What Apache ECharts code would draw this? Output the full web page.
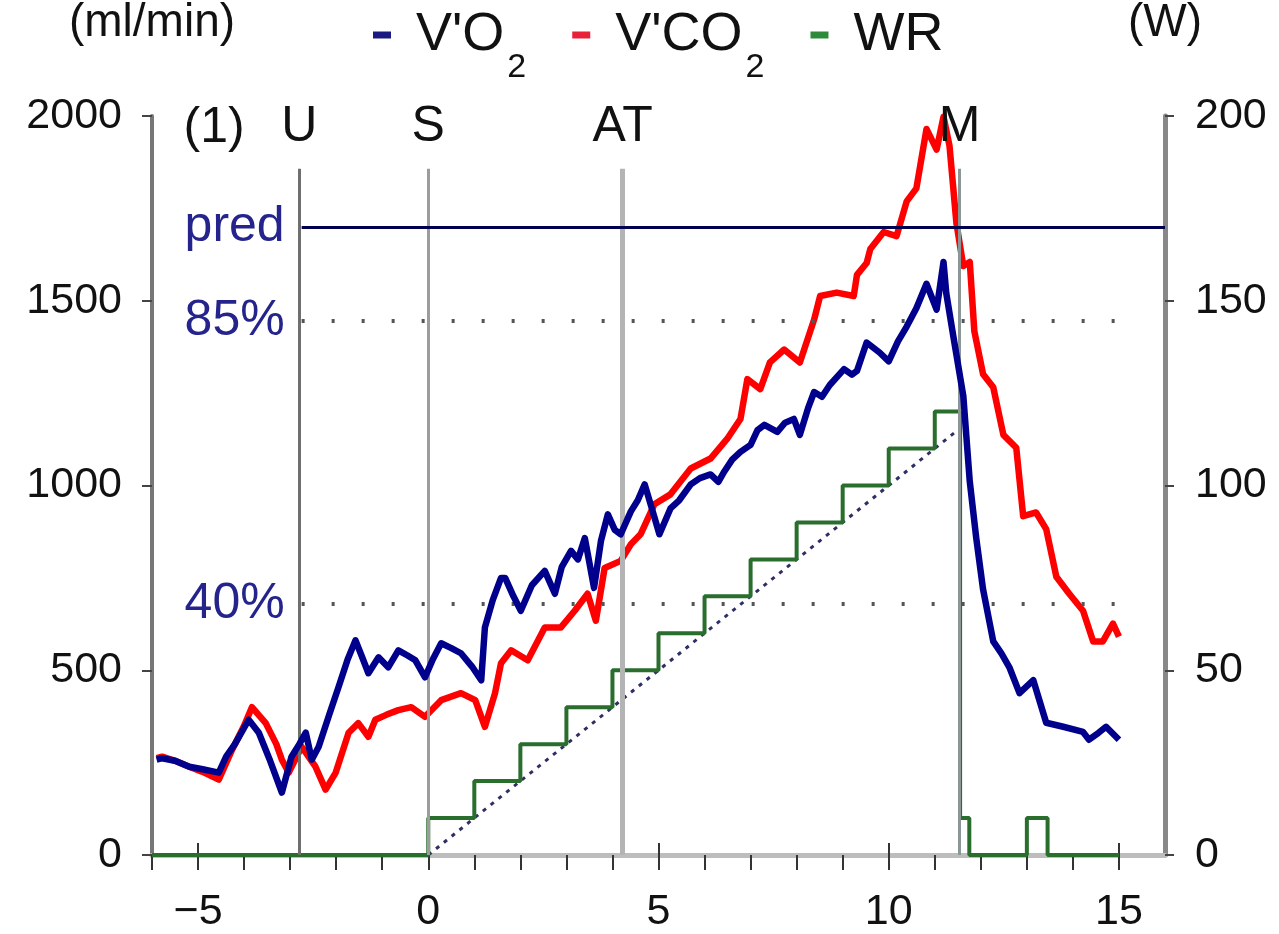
<!DOCTYPE html>
<html>
<head>
<meta charset="utf-8">
<script src="https://cdn.jsdelivr.net/npm/echarts@6/dist/echarts.min.js"></script>
<style>
  html, body { margin: 0; padding: 0; background: #ffffff; }
  #chart { width: 1279px; height: 934px; }
</style>
</head>
<body>
<div id="chart"></div>
<script>
// Oxygen uptake (ml/min) against time (min)
const vo2Time = [-5.9, -5.78, -5.5, -5.19, -4.9, -4.55, -4.39, -4.2, -3.9, -3.68, -3.45, -3.18, -2.97, -2.8, -2.66, -2.53, -2.38, -2.15, -1.95, -1.75, -1.58, -1.45, -1.3, -1.08, -0.87, -0.65, -0.45, -0.28, -0.07, 0.1, 0.28, 0.5, 0.71, 0.95, 1.15, 1.23, 1.4, 1.58, 1.67, 1.85, 2.01, 2.25, 2.53, 2.75, 2.9, 3.1, 3.25, 3.4, 3.6, 3.75, 3.9, 4.05, 4.18, 4.4, 4.55, 4.7, 4.85, 5.02, 5.26, 5.45, 5.7, 5.9, 6.13, 6.3, 6.43, 6.6, 6.78, 7.0, 7.15, 7.3, 7.58, 7.75, 7.94, 8.07, 8.25, 8.38, 8.55, 8.72, 9.03, 9.2, 9.31, 9.52, 9.8, 10.0, 10.2, 10.39, 10.6, 10.82, 11.04, 11.19, 11.25, 11.4, 11.62, 11.76, 11.9, 12.05, 12.27, 12.45, 12.62, 12.84, 13.14, 13.42, 13.79, 14.22, 14.35, 14.55, 14.72, 15.0];
const vo2Values = [258, 262, 255, 239, 232, 223, 266, 300, 366, 331, 260, 169, 266, 300, 331, 258, 293, 380, 454, 530, 581, 540, 492, 535, 508, 554, 540, 527, 481, 530, 573, 560, 546, 510, 473, 616, 690, 750, 750, 700, 661, 730, 769, 707, 780, 823, 800, 858, 723, 850, 922, 880, 868, 930, 960, 1003, 940, 868, 938, 960, 1003, 1020, 1030, 1010, 1038, 1070, 1091, 1110, 1150, 1164, 1145, 1170, 1180, 1137, 1210, 1253, 1240, 1272, 1315, 1300, 1310, 1387, 1360, 1336, 1390, 1430, 1480, 1546, 1476, 1605, 1520, 1406, 1242, 1011, 858, 718, 578, 545, 508, 438, 473, 358, 347, 333, 312, 330, 347, 312];

// Carbon dioxide output (ml/min) against time (min)
const vco2Time = [-5.9, -5.78, -5.5, -5.19, -4.9, -4.55, -4.26, -4.0, -3.83, -3.53, -3.3, -3.18, -3.03, -2.75, -2.45, -2.23, -2.01, -1.73, -1.52, -1.3, -1.15, -0.9, -0.65, -0.37, -0.07, 0.28, 0.71, 1.02, 1.23, 1.45, 1.58, 1.8, 2.16, 2.53, 2.88, 3.18, 3.46, 3.64, 3.83, 4.18, 4.4, 4.61, 4.91, 5.26, 5.7, 6.13, 6.49, 6.78, 6.93, 7.21, 7.42, 7.73, 8.07, 8.38, 8.51, 8.87, 9.24, 9.31, 9.52, 9.6, 9.89, 10.17, 10.39, 10.6, 10.82, 11.04, 11.19, 11.32, 11.47, 11.62, 11.76, 11.86, 12.05, 12.27, 12.49, 12.77, 12.92, 13.2, 13.42, 13.64, 13.92, 14.22, 14.44, 14.65, 14.87, 15.0];
const vco2Values = [262, 266, 255, 239, 225, 204, 285, 350, 400, 357, 300, 258, 223, 293, 239, 177, 223, 331, 357, 320, 366, 380, 392, 400, 374, 419, 438, 419, 347, 438, 519, 554, 527, 616, 616, 661, 707, 634, 777, 796, 841, 868, 949, 976, 1046, 1073, 1126, 1180, 1288, 1261, 1333, 1368, 1333, 1449, 1513, 1522, 1513, 1570, 1602, 1640, 1686, 1675, 1769, 1804, 1965, 1909, 1998, 1919, 1710, 1594, 1605, 1417, 1301, 1266, 1137, 1102, 917, 927, 882, 753, 707, 661, 578, 578, 626, 591];

// Work rate (W): time at which each level starts, and the level
const wrTime = [-6, 0, 1, 2, 3, 4, 5, 6, 7, 8, 9, 10, 11, 11.55, 11.75, 13, 13.45, 15];
const wrWatts = [0, 10, 20, 30, 40, 50, 60, 70, 80, 90, 100, 110, 120, 10, 0, 10, 0, 0];

// Linear ramp of 10 W/min
const rampTime = [0, 11.45];
const rampWatts = [0, 114.5];

// Event markers (min) and reference levels (ml/min)
const markerNames = ['U', 'S', 'AT', 'M'];
const markerTimes = [-2.8, 0, 4.22, 11.54];
const markerTop = 1857;
const phaseLabel = '(1)';
const phaseLabelPos = [-4.65, 1968];
const predValue = 1700;
const predLevels = [0.85, 0.40];
const levelStart = -2.75;
const levelEnd = 15.35;

// Axis ticks
const xTickValues = [-6, -5, -4, -3, -2, -1, 0, 1, 2, 3, 4, 5, 6, 7, 8, 9, 10, 11, 12, 13, 14, 15];
const xMajorTicks = [-5, 5, 10, 15];
const xLabelValues = [-5, 0, 5, 10, 15];

const FONT = '"Liberation Sans", Arial, Helvetica, sans-serif';
const pairs = (xs, ys) => xs.map((x, i) => [x, ys[i]]);

const markerStyles = {
  U:  { color: '#6f6f6f', width: 3 },
  S:  { color: '#9c9c9c', width: 3 },
  AT: { color: '#b4b4b4', width: 5 },
  M:  { color: '#8c9696', width: 3 }
};

const markerLines = markerNames.map((name, i) => [
  {
    coord: [markerTimes[i], 0],
    lineStyle: Object.assign({ type: 'solid' }, markerStyles[name]),
    label: { show: true, position: 'end', formatter: name, distance: 17,
             fontSize: 50, color: '#111', fontFamily: FONT }
  },
  { coord: [markerTimes[i], markerTop] }
]);

const predLine = [
  {
    coord: [levelStart, predValue],
    lineStyle: { color: '#000050', width: 3, type: 'solid' },
    label: { show: true, position: 'start', formatter: 'pred', distance: 17,
             fontSize: 50, color: '#24248c', fontFamily: FONT }
  },
  { coord: [16, predValue] }
];

const levelLines = predLevels.map(lvl => [
  {
    coord: [levelStart, predValue * lvl],
    lineStyle: { color: '#555', width: 4, type: [3, 27] },
    label: { show: true, position: 'start', formatter: Math.round(lvl * 100) + '%', distance: 17,
             fontSize: 50, color: '#24248c', fontFamily: FONT }
  },
  { coord: [levelEnd, predValue * lvl] }
]);

const chart = echarts.init(document.getElementById('chart'), null, { renderer: 'canvas' });

chart.setOption({
  animation: false,
  backgroundColor: '#ffffff',
  textStyle: { fontFamily: FONT },
  grid: { left: 152, right: 114, top: 112, bottom: 78 },
  legend: {
    data: ["V'O2", "V'CO2", 'WR'],
    left: 368,
    top: -20,
    icon: 'rect',
    itemWidth: 18,
    itemHeight: 7,
    itemGap: 46,
    selectedMode: false,
    formatter: name => name === 'WR' ? '{m|WR}' : '{m|' + name.slice(0, -1) + '}{sub|2}',
    textStyle: {
      fontFamily: FONT,
      color: '#111',
      rich: {
        m: { fontSize: 54, lineHeight: 60, padding: [0, 0, 0, 20], verticalAlign: 'middle', color: '#111', fontFamily: FONT },
        sub: { fontSize: 34, lineHeight: 36, padding: [66, 0, 0, 3], verticalAlign: 'middle', color: '#111', fontFamily: FONT }
      }
    }
  },
  xAxis: [
    {
      type: 'value',
      min: -6, max: 16, interval: 1,
      position: 'bottom',
      splitLine: { show: false },
      axisLine: { show: true, onZero: false, lineStyle: { color: '#bdbdbd', width: 5 } },
      axisTick: { show: true, customValues: xTickValues, length: 15, lineStyle: { color: '#333', width: 2 } },
      axisLabel: {
        customValues: xLabelValues, fontSize: 43, margin: 36, color: '#111', fontFamily: FONT,
        formatter: v => v < 0 ? '\u2212' + Math.abs(v) : String(v)
      }
    },
    {
      type: 'value',
      min: -6, max: 16, interval: 1,
      position: 'bottom', offset: 0,
      splitLine: { show: false },
      axisLine: { show: false, onZero: false },
      axisTick: { show: true, inside: true, customValues: xMajorTicks, length: 12, lineStyle: { color: '#333', width: 2 } },
      axisLabel: { show: false }
    }
  ],
  yAxis: [
    {
      type: 'value',
      min: 0, max: 2000, interval: 500,
      position: 'left',
      name: '(ml/min)',
      nameLocation: 'end',
      nameGap: 70,
      nameTextStyle: { fontSize: 46, color: '#111', fontFamily: FONT },
      splitLine: { show: false },
      axisLine: { show: true, onZero: false, lineStyle: { color: '#777', width: 4 } },
      axisTick: { show: true, length: 10, lineStyle: { color: '#444', width: 2 } },
      axisLabel: { fontSize: 43, margin: 30, color: '#111', fontFamily: FONT, formatter: v => String(v) }
    },
    {
      type: 'value',
      min: 0, max: 200, interval: 50,
      position: 'right',
      name: '(W)',
      nameLocation: 'end',
      nameGap: 70,
      nameTextStyle: { fontSize: 46, color: '#111', fontFamily: FONT },
      splitLine: { show: false },
      axisLine: { show: true, onZero: false, lineStyle: { color: '#888', width: 5 } },
      axisTick: { show: true, length: 9, lineStyle: { color: '#444', width: 2 } },
      axisLabel: { fontSize: 43, margin: 30, color: '#111', fontFamily: FONT, formatter: v => String(v) }
    }
  ],
  series: [
    {
      name: 'events',
      type: 'line',
      xAxisIndex: 0, yAxisIndex: 0,
      data: [],
      silent: true,
      z: 1,
      markLine: {
        silent: true,
        animation: false,
        symbol: ['none', 'none'],
        data: markerLines.concat([predLine], levelLines)
      },
      markPoint: {
        silent: true,
        animation: false,
        symbol: 'circle',
        symbolSize: 1,
        itemStyle: { color: 'rgba(0,0,0,0)' },
        data: [{
          coord: phaseLabelPos,
          label: { show: true, position: 'inside', formatter: phaseLabel, fontSize: 50, color: '#111', fontFamily: FONT }
        }]
      }
    },
    {
      name: 'ramp',
      type: 'line',
      xAxisIndex: 0, yAxisIndex: 1,
      data: pairs(rampTime, rampWatts),
      showSymbol: false,
      silent: true,
      z: 2,
      lineStyle: { color: '#2f2f66', width: 3, type: [4, 6] }
    },
    {
      name: 'WR',
      type: 'line',
      xAxisIndex: 0, yAxisIndex: 1,
      step: 'end',
      data: pairs(wrTime, wrWatts),
      showSymbol: false,
      z: 3,
      color: '#2e8a3a',
      lineStyle: { color: '#2a6e2e', width: 4 }
    },
    {
      name: "V'CO2",
      type: 'line',
      xAxisIndex: 0, yAxisIndex: 0,
      data: pairs(vco2Time, vco2Values),
      showSymbol: false,
      z: 4,
      color: '#e8203a',
      lineStyle: { color: '#ff0000', width: 6.5, join: 'round' }
    },
    {
      name: "V'O2",
      type: 'line',
      xAxisIndex: 0, yAxisIndex: 0,
      data: pairs(vo2Time, vo2Values),
      showSymbol: false,
      z: 5,
      color: '#1a1a80',
      lineStyle: { color: '#00008c', width: 6.5, join: 'round' }
    }
  ]
});
</script>
</body>
</html>
